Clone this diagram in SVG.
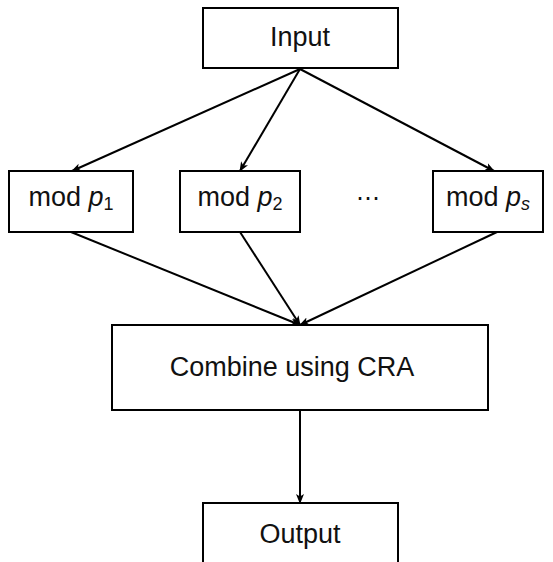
<svg xmlns="http://www.w3.org/2000/svg" width="553" height="562" viewBox="0 0 553 562">
<defs>
<marker id="ah" viewBox="0 0 10 10" refX="9" refY="5" markerWidth="5" markerHeight="5" markerUnits="strokeWidth" orient="auto">
<path d="M0,1 L10,5 L0,9 L2.5,5 Z" fill="#000"/>
</marker>
<style>
.box{fill:#fff;stroke:#000;stroke-width:2}
.t{font-family:"Liberation Sans",Arial,sans-serif;font-size:27px;fill:#111;text-anchor:middle}
.sub{font-size:18px;font-style:normal}
.it{font-style:italic}
.c{stroke:#000;stroke-width:2;fill:none}
</style>
</defs>
<rect width="553" height="562" fill="#fff"/>
<g id="connectors">
<line class="c" x1="300" y1="69" x2="72" y2="171" marker-end="url(#ah)"/>
<line class="c" x1="300" y1="69" x2="240" y2="171" marker-end="url(#ah)"/>
<line class="c" x1="300" y1="69" x2="494" y2="171" marker-end="url(#ah)"/>
<line class="c" x1="71" y1="232" x2="300" y2="325" marker-end="url(#ah)"/>
<line class="c" x1="240" y1="232" x2="300" y2="325" marker-end="url(#ah)"/>
<line class="c" x1="497" y1="232" x2="300" y2="325" marker-end="url(#ah)"/>
<line class="c" x1="300" y1="410" x2="300" y2="503" marker-end="url(#ah)"/>
</g>
<g id="input">
<rect class="box" x="203" y="8" width="195" height="60"/>
<text class="t" x="300" y="46">Input</text>
</g>
<g id="mod1">
<rect class="box" x="9" y="171" width="124" height="61"/>
<text class="t" x="71" y="206">mod <tspan class="it">p</tspan><tspan class="sub" dy="4">1</tspan></text>
</g>
<g id="mod2">
<rect class="box" x="180" y="171" width="120" height="61"/>
<text class="t" x="240" y="206">mod <tspan class="it">p</tspan><tspan class="sub" dy="4">2</tspan></text>
</g>
<g id="dots">
<text x="368" y="206" style="font-family:'DejaVu Sans',sans-serif;font-size:24px;fill:#111;text-anchor:middle">⋯</text>
</g>
<g id="modS">
<rect class="box" x="433" y="171" width="110" height="61"/>
<text class="t" x="488" y="206">mod <tspan class="it">p</tspan><tspan class="sub it" dy="4">s</tspan></text>
</g>
<g id="combine">
<rect class="box" x="112" y="325" width="376" height="85"/>
<text class="t" x="292" y="376">Combine using CRA</text>
</g>
<g id="output">
<rect class="box" x="203" y="503" width="195" height="70"/>
<text class="t" x="300" y="543">Output</text>
</g>
</svg>
